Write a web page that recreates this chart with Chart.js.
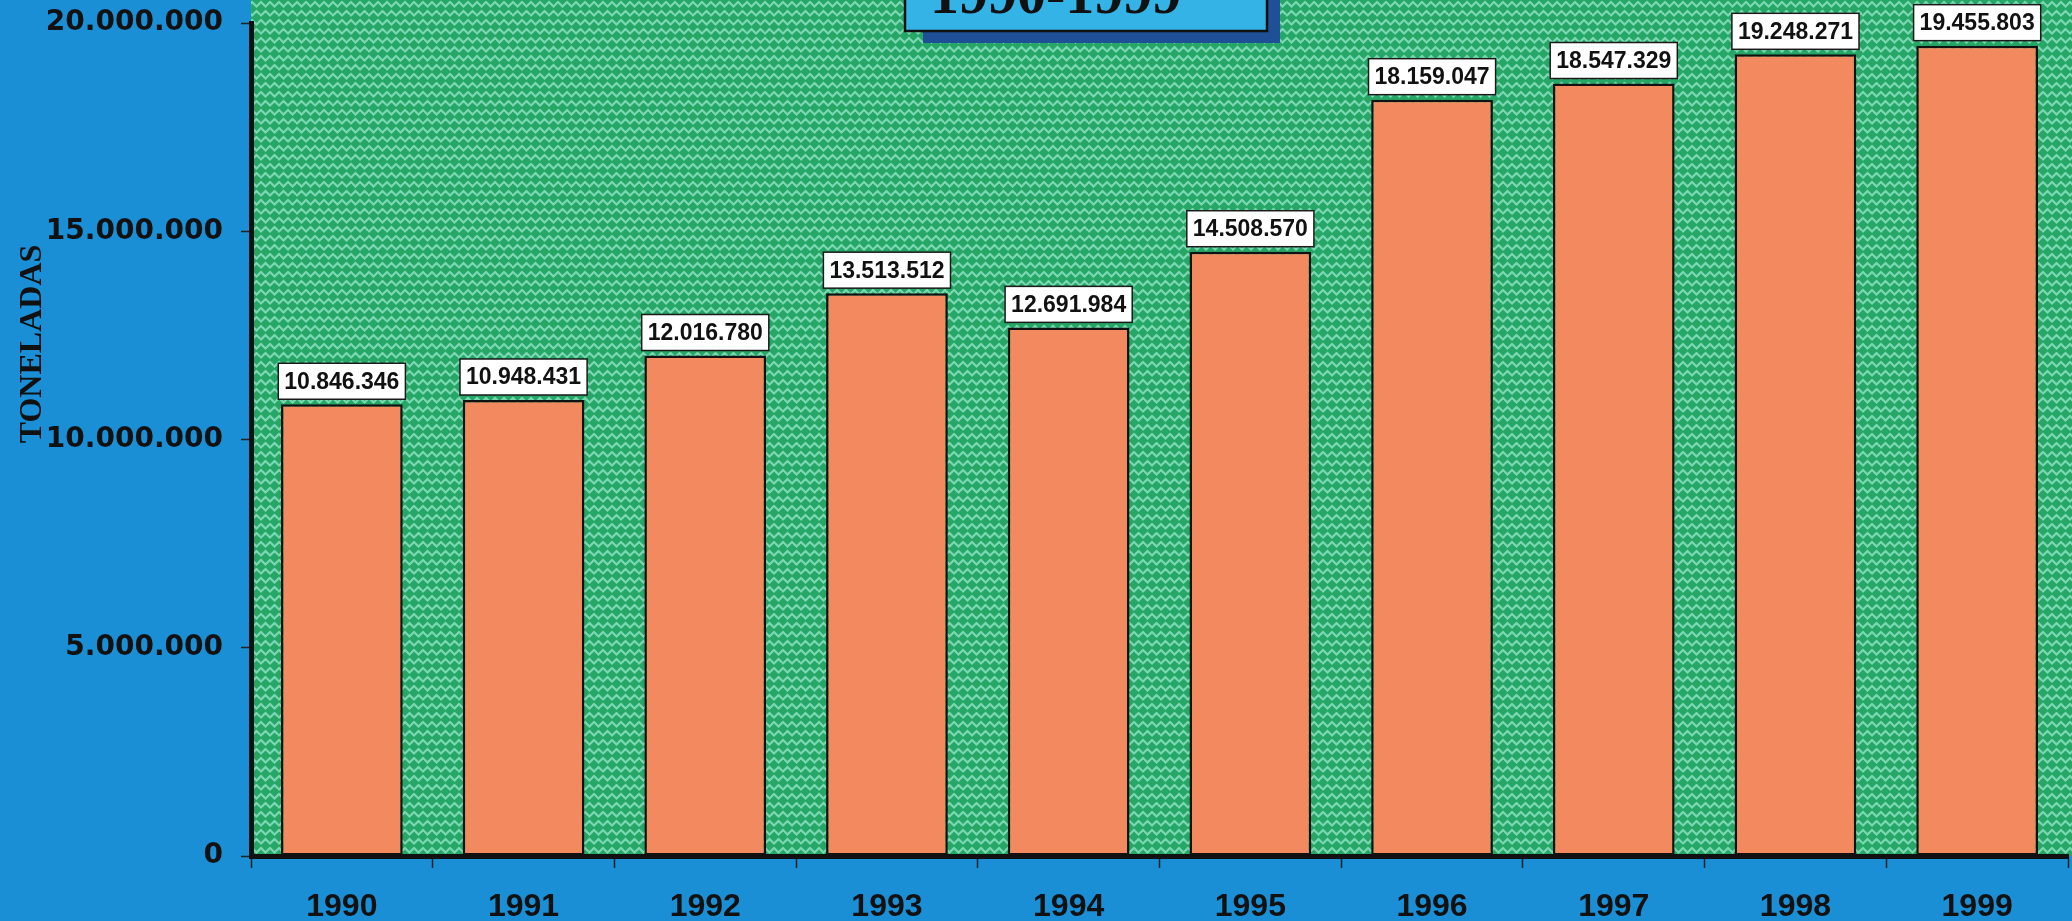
<!DOCTYPE html>
<html>
<head>
<meta charset="utf-8">
<script src="https://cdn.jsdelivr.net/npm/chart.js@4.4.1/dist/chart.umd.min.js"></script>
<style>
  html, body { margin: 0; padding: 0; background: #1b8fd6; overflow: hidden; }
  canvas { display: block; }
</style>
</head>
<body>
<canvas id="c" width="2072" height="921"></canvas>
<script>
const years = ['1990','1991','1992','1993','1994','1995','1996','1997','1998','1999'];
const toneladas = [10846346, 10948431, 12016780, 13513512, 12691984, 14508570, 18159047, 18547329, 19248271, 19455803];
const yTicks = [0, 5000000, 10000000, 15000000, 20000000];
const axisTitle = 'TONELADAS';
const chartTitle = '1990-1999';

function fmt(v) {
  return String(Math.round(v)).replace(/\B(?=(\d{3})+(?!\d))/g, '.');
}

function makePattern(ctx) {
  const t = document.createElement('canvas');
  const s = 18;
  t.width = s; t.height = s;
  const g = t.getContext('2d');
  g.fillStyle = '#27a767';
  g.fillRect(0, 0, s, s);
  g.strokeStyle = '#7ad8b2';
  g.lineWidth = 2.2;
  g.lineCap = 'round';
  const q = s / 4;
  g.beginPath();
  g.moveTo(0, 2); g.lineTo(q, 2 + q); g.lineTo(2 * q, 2); g.lineTo(3 * q, 2 + q); g.lineTo(s, 2);
  g.moveTo(-q, 2 + s / 2); g.lineTo(0, 2 + s / 2 + q); g.lineTo(q, 2 + s / 2);
  g.moveTo(2 * q, 2 + s / 2 + q); g.lineTo(3 * q, 2 + s / 2); g.lineTo(s, 2 + s / 2 + q);
  g.moveTo(q, 2 + s / 2); g.lineTo(q + 3, 2 + s / 2 + 3);
  g.stroke();
  return ctx.createPattern(t, 'repeat');
}

const bgPlugin = {
  id: 'bg',
  beforeDraw(chart) {
    const ctx = chart.ctx, a = chart.chartArea;
    ctx.save();
    ctx.fillStyle = '#1b8fd6';
    ctx.fillRect(0, 0, chart.width, chart.height);
    ctx.fillStyle = makePattern(ctx);
    ctx.fillRect(a.left, 0, chart.width - a.left, a.bottom);
    ctx.restore();
  }
};

const labelPlugin = {
  id: 'labels',
  afterDatasetsDraw(chart) {
    const ctx = chart.ctx;
    const meta = chart.getDatasetMeta(0);
    ctx.save();
    ctx.font = 'bold 23px "Liberation Sans", Arial, sans-serif';
    ctx.textAlign = 'center';
    ctx.textBaseline = 'middle';
    meta.data.forEach((bar, i) => {
      const txt = fmt(chart.data.datasets[0].data[i]);
      const w = ctx.measureText(txt).width + 12;
      const h = 36;
      const x = bar.x - w / 2;
      const y = bar.y - 5 - h;
      ctx.fillStyle = '#ffffff';
      ctx.fillRect(x, y, w, h);
      ctx.lineWidth = 1.5;
      ctx.strokeStyle = '#1a1a1a';
      ctx.strokeRect(x, y, w, h);
      ctx.fillStyle = '#111111';
      ctx.fillText(txt, bar.x, y + h / 2 + 1);
    });
    ctx.restore();
  }
};

const decoPlugin = {
  id: 'deco',
  afterDraw(chart) {
    const ctx = chart.ctx;
    ctx.save();
    ctx.fillStyle = '#1f4f96';
    ctx.fillRect(923, 0, 357, 43);
    ctx.fillStyle = '#34b3e6';
    ctx.fillRect(905, -5, 362, 36);
    ctx.lineWidth = 2.5;
    ctx.strokeStyle = '#111111';
    ctx.strokeRect(905, -5, 362, 36);
    ctx.fillStyle = '#111111';
    ctx.font = 'bold 58px "Liberation Serif", "Times New Roman", serif';
    ctx.textAlign = 'left';
    ctx.textBaseline = 'alphabetic';
    ctx.fillText(chartTitle, 930, 13);
    ctx.translate(33, 344);
    ctx.rotate(-Math.PI / 2);
    ctx.font = 'bold 32px "Liberation Serif", "Times New Roman", serif';
    ctx.textAlign = 'center';
    ctx.textBaseline = 'middle';
    ctx.fillText(axisTitle, 0, 0);
    ctx.restore();
  }
};

new Chart(document.getElementById('c'), {
  type: 'bar',
  data: {
    labels: years,
    datasets: [{
      data: toneladas,
      backgroundColor: '#f2895f',
      borderColor: '#111111',
      borderWidth: 2.5,
      borderSkipped: false,
      barPercentage: 0.67,
      categoryPercentage: 1.0
    }]
  },
  options: {
    responsive: false,
    devicePixelRatio: 1,
    animation: false,
    layout: { padding: { top: 23, right: 4, left: 0, bottom: 0 } },
    plugins: {
      legend: { display: false },
      tooltip: { enabled: false },
      title: { display: false }
    },
    scales: {
      x: {
        afterFit(scale) { scale.height = 65; scale.paddingLeft = 0; scale.paddingRight = 0; },
        border: { display: true, color: '#111111', width: 5 },
        grid: {
          offset: true,
          drawOnChartArea: false,
          drawTicks: true,
          tickLength: 12,
          tickColor: '#222222',
          tickWidth: 1.5
        },
        ticks: {
          color: '#111111',
          padding: 20,
          font: { family: '"Liberation Sans Narrow", "Liberation Sans", Arial, sans-serif', size: 32, weight: 'bold' }
        }
      },
      y: {
        min: 0,
        max: 20000000,
        afterFit(scale) { scale.width = 251; scale.paddingTop = 0; scale.paddingBottom = 0; },
        afterBuildTicks(scale) { scale.ticks = yTicks.map(v => ({ value: v })); },
        border: { display: true, color: '#111111', width: 5 },
        grid: {
          drawOnChartArea: false,
          drawTicks: true,
          tickLength: 10,
          tickColor: '#222222',
          tickWidth: 1.5
        },
        ticks: {
          color: '#111111',
          padding: 18,
          font: { family: '"DejaVu Sans", "Liberation Sans", Arial, sans-serif', size: 28, weight: 'bold' },
          callback: (v) => fmt(v)
        }
      }
    }
  },
  plugins: [bgPlugin, labelPlugin, decoPlugin]
});
</script>
</body>
</html>
